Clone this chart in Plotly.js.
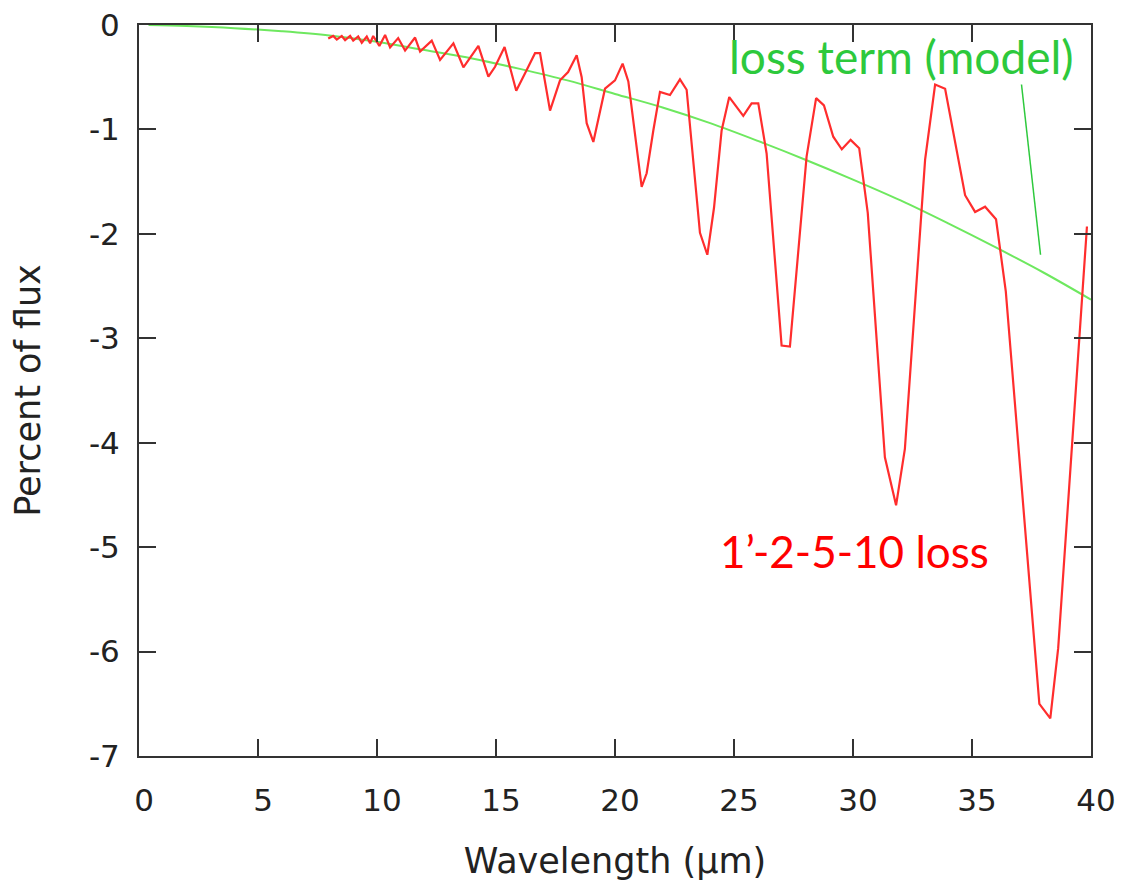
<!DOCTYPE html>
<html>
<head>
<meta charset="utf-8">
<script src="https://cdn.plot.ly/plotly-3.0.1.min.js"></script>
<style>
  html, body { margin: 0; padding: 0; background: #ffffff; }
  #chart { width: 1127px; height: 893px; }
</style>
</head>
<body>
<div id="chart"></div>
<script>
// Measured flux loss for the 1'-2-5-10 configuration (percent of flux vs wavelength)
const lossWavelength = [
  7.95, 8.16, 8.31, 8.52, 8.66, 8.87, 9.00, 9.21, 9.36, 9.57, 9.71, 9.84,
  10.10, 10.34, 10.55, 10.89, 11.18, 11.60, 11.81, 12.30, 12.65, 13.21, 13.63,
  14.26, 14.68, 14.96, 15.36, 15.85, 16.29, 16.64, 16.85, 17.27, 17.69, 18.03,
  18.39, 18.60, 18.81, 19.09, 19.58, 20.00, 20.32, 20.56, 21.12, 21.33, 21.61,
  21.89, 22.31, 22.73, 23.01, 23.57, 23.88, 24.16, 24.48, 24.80, 25.39, 25.74,
  26.02, 26.37, 27.00, 27.35, 28.05, 28.45, 28.78, 29.17, 29.53, 29.90, 30.26,
  30.62, 31.34, 31.81, 32.18, 33.03, 33.45, 33.87, 34.71, 35.13, 35.55, 36.01,
  36.42, 37.83, 38.29, 38.62, 39.83
];
const lossPercent = [
  -0.13, -0.105, -0.14, -0.105, -0.145, -0.105, -0.15, -0.11, -0.17, -0.11, -0.175, -0.105,
  -0.20, -0.095, -0.215, -0.125, -0.245, -0.12, -0.255, -0.15, -0.335, -0.175, -0.405,
  -0.20, -0.495, -0.40, -0.21, -0.63, -0.43, -0.27, -0.27, -0.82, -0.53, -0.45,
  -0.29, -0.50, -0.94, -1.12, -0.61, -0.53, -0.37, -0.54, -1.55, -1.42, -1.01,
  -0.64, -0.67, -0.52, -0.62, -1.99, -2.20, -1.75, -1.01, -0.69, -0.87, -0.75,
  -0.75, -1.23, -3.07, -3.08, -1.26, -0.70, -0.77, -1.07, -1.19, -1.10, -1.18,
  -1.80, -4.14, -4.60, -4.06, -1.29, -0.57, -0.61, -1.63, -1.79, -1.74, -1.86,
  -2.55, -6.50, -6.64, -5.97, -1.93
];

// Loss term from the model
const modelWavelength = [0.4, 2, 4, 6, 8, 10, 12, 14, 16, 18, 20, 22, 24, 26, 28, 30, 32, 34, 36, 38, 40];
const modelPercent = [0.0, -0.01, -0.03, -0.06, -0.10, -0.16, -0.24, -0.32, -0.42, -0.53, -0.66,
  -0.79, -0.94, -1.11, -1.29, -1.48, -1.68, -1.90, -2.13, -2.37, -2.63];

// Axis ticks
const xTickVals = [0, 5, 10, 15, 20, 25, 30, 35, 40];
const xTickText = ['0', '5', '10', '15', '20', '25', '30', '35', '40'];
const yTickVals = [0, -1, -2, -3, -4, -5, -6, -7];
const yTickText = ['0', '-1', '-2', '-3', '-4', '-5', '-6', '-7'];

// Label texts and the leader line from the model label to its curve
const modelLabel = 'loss term (model)';
const lossLabel = '1\u2019-2-5-10 loss';
const leaderStart = [37.08, -0.57];
const leaderEnd = [37.88, -2.20];

const tickFont = { family: 'DejaVu Sans', size: 31, color: '#222222' };
const titleFont = { family: 'DejaVu Sans', size: 35, color: '#222222' };
const frameColor = '#333333';

const traces = [
  {
    x: modelWavelength, y: modelPercent,
    type: 'scatter', mode: 'lines',
    line: { color: 'rgb(110,232,95)', width: 2, shape: 'spline' },
    hoverinfo: 'skip'
  },
  {
    x: lossWavelength, y: lossPercent,
    type: 'scatter', mode: 'lines',
    line: { color: 'rgb(255,45,45)', width: 2.2 },
    hoverinfo: 'skip'
  }
];

const layout = {
  width: 1127, height: 893,
  margin: { l: 139, r: 36, t: 25, b: 137, pad: 0 },
  paper_bgcolor: '#ffffff', plot_bgcolor: '#ffffff',
  showlegend: false,
  xaxis: {
    range: [0, 40], tickvals: xTickVals, ticktext: xTickText,
    ticks: 'inside', ticklen: 17, tickwidth: 2, tickcolor: frameColor,
    showline: true, linecolor: frameColor, linewidth: 2, mirror: 'ticks',
    showgrid: false, zeroline: false,
    tickfont: tickFont, ticklabelstandoff: 16, ticklabelshift: 5,
    title: { text: 'Wavelength (\u00b5m)', font: titleFont, standoff: 31 },
    fixedrange: true
  },
  yaxis: {
    range: [-7, 0], tickvals: yTickVals, ticktext: yTickText,
    ticks: 'inside', ticklen: 17, tickwidth: 2, tickcolor: frameColor,
    showline: true, linecolor: frameColor, linewidth: 2, mirror: 'ticks',
    showgrid: false, zeroline: false,
    tickfont: tickFont, ticklabelstandoff: 11,
    title: { text: 'Percent of flux', font: titleFont, standoff: 38 },
    fixedrange: true
  },
  shapes: [
    {
      type: 'line', xref: 'x', yref: 'y',
      x0: leaderStart[0], y0: leaderStart[1], x1: leaderEnd[0], y1: leaderEnd[1],
      line: { color: 'rgb(45,201,60)', width: 1.5 }
    }
  ],
  annotations: [
    {
      text: modelLabel, xref: 'x', yref: 'y', x: 32.02, y: -0.30,
      showarrow: false, xanchor: 'center', yanchor: 'middle',
      font: { family: 'Lato', size: 46, color: 'rgb(45,201,60)' }
    },
    {
      text: lossLabel, xref: 'x', yref: 'y', x: 30.08, y: -5.04,
      showarrow: false, xanchor: 'center', yanchor: 'middle',
      font: { family: 'Lato', size: 44, color: '#ff0000' }
    }
  ]
};

Plotly.newPlot('chart', traces, layout, { displayModeBar: false, staticPlot: true });
</script>
</body>
</html>
